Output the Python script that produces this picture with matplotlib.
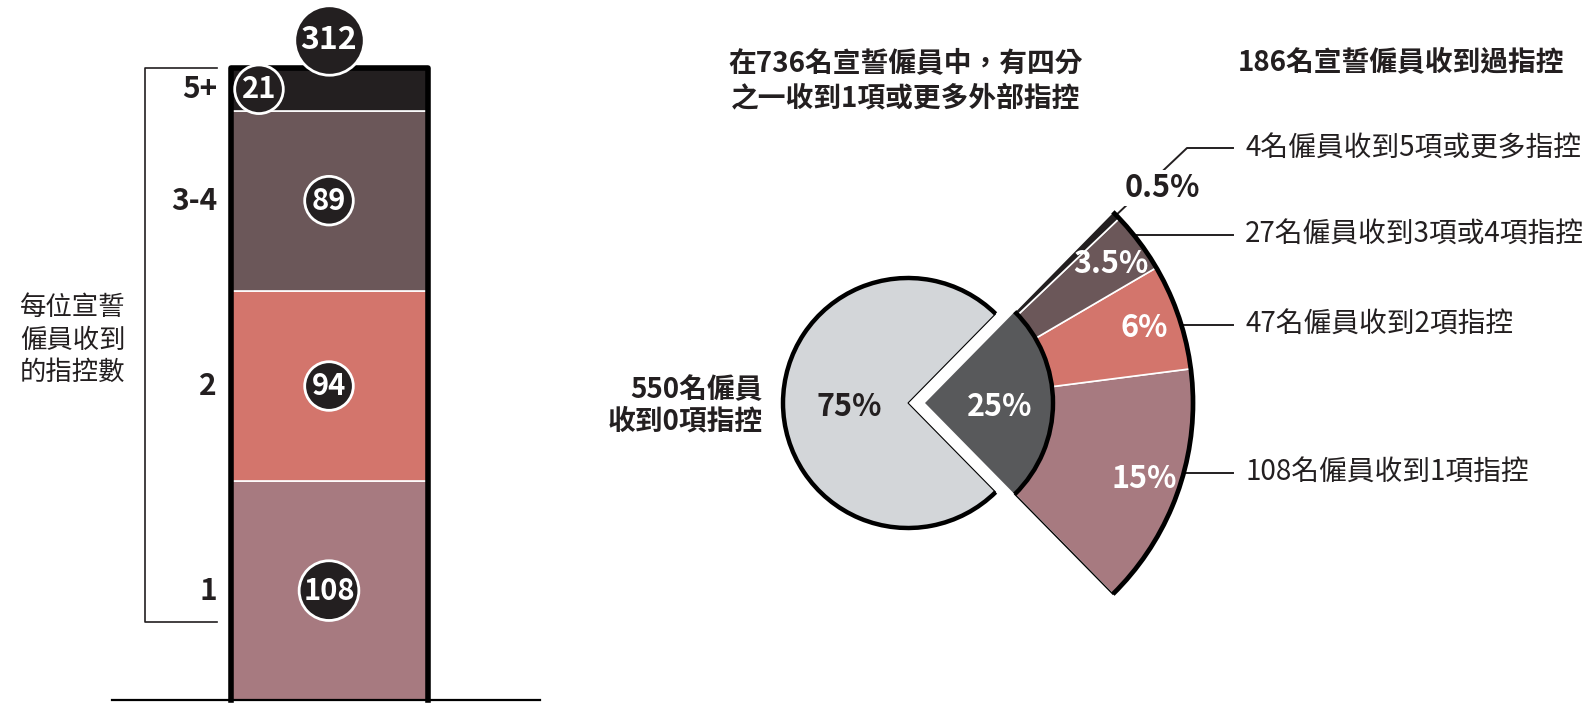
import numpy as np
import matplotlib.pyplot as plt
from matplotlib.patches import Wedge, Arc

plt.rcParams['font.family'] = ['Noto Sans CJK TC', 'DejaVu Sans']

# DATA

bar_labels = ['1', '2', '3-4', '5+']
bar_counts = [108, 94, 89, 21]
bar_colors = ['#A77A80', '#D3756C', '#6B5759', '#231F20']

pie_counts = [550, 186]
pie_pct = ['75%', '25%']
pie_colors = ['#D3D6D9', '#58595B']

fan_counts = [108, 47, 27, 4]
fan_pct = ['15%', '6%', '3.5%', '0.5%']
fan_colors = ['#A77A80', '#D3756C', '#6B5759', '#231F20']
fan_labels = ['108名僱員收到1項指控', '47名僱員收到2項指控',
              '27名僱員收到3項或4項指控', '4名僱員收到5項或更多指控']

title_left = '在736名宣誓僱員中，有四分\n之一收到1項或更多外部指控'
title_right = '186名宣誓僱員收到過指控'
zero_label = '550名僱員\n收到0項指控'
bar_ylabel = '每位宣誓\n僱員收到\n的指控數'

dark = '#231F20'
W, H = 1590, 703

fig = plt.figure(figsize=(15.9, 7.03), dpi=100)

# STACKED BAR (x in pixels, y in counts)
k = 632 / 312
axb = fig.add_axes([0, 0, 1, 1])
axb.set_xlim(0, W)
axb.set_ylim(-3 / k, 700 / k)
axb.axis('off')

counts = np.array(bar_counts)
bottoms = np.concatenate([[0], np.cumsum(counts)[:-1]])
mids = bottoms + counts / 2
total = counts.sum()
bx, bw = 329, 197

axb.bar([bx] * len(counts), counts, bottom=bottoms, width=bw, color=bar_colors,
        edgecolor='white', linewidth=1.2, zorder=2)
axb.plot([bx - bw / 2, bx - bw / 2, bx + bw / 2, bx + bw / 2], [0, total, total, 0],
         color='black', lw=4, solid_joinstyle='round', zorder=3)
axb.plot([112, 540], [0, 0], color='black', lw=1.6, zorder=4)

# bracket + category labels
axb.plot([217, 145, 145, 217], [total, total, 38.5, 38.5], color=dark, lw=1.2)
for lab, m in zip(bar_labels, mids):
    axb.text(217, m, lab, ha='right', va='center', fontsize=21.5, fontweight='bold', color=dark)
axb.text(20, (700 - 340) / k, bar_ylabel, ha='left', va='center', fontsize=19,
         color=dark, linespacing=1.25)

# value circles
cx_list = [bx if c != bar_counts[-1] else bx - 70 for c in bar_counts]
sizes = [(43 if c >= 100 else 35) ** 2 for c in bar_counts]
axb.scatter(cx_list, mids, s=sizes, c=dark, edgecolors='white', linewidths=2, zorder=5)
for x, m, c in zip(cx_list, mids, bar_counts):
    axb.text(x, m, str(c), ha='center', va='center', fontsize=21, fontweight='bold',
             color='white', zorder=6)
axb.scatter([bx], [total + 14], s=50 ** 2, c=dark, edgecolors='white', linewidths=2, zorder=5)
axb.text(bx, total + 14, str(total), ha='center', va='center', fontsize=23,
         fontweight='bold', color='white', zorder=6)

# PIE + FAN (pixel coords, y up)
axp = fig.add_axes([0, 0, 1, 1])
axp.set_xlim(0, W)
axp.set_ylim(0, H)
axp.axis('off')

cx0, cy = 908, H - 403
cx1 = 925
r_pie, r_in, r_out = 125, 128, 268
half = pie_counts[1] / sum(pie_counts) * 180

axp.add_patch(Wedge((cx0, cy), r_pie, half, 360 - half, facecolor=pie_colors[0],
                    edgecolor='black', lw=0.8, zorder=1))
axp.add_patch(Arc((cx0, cy), 2 * r_pie, 2 * r_pie, theta1=half, theta2=360 - half,
                  color='black', lw=3.2, zorder=3))

t = -half
fan_mid = []
for c, col in zip(fan_counts, fan_colors):
    span = c / sum(fan_counts) * 2 * half
    axp.add_patch(Wedge((cx1, cy), r_out, t, t + span, width=r_out - r_in,
                        facecolor=col, edgecolor='white', lw=1.2, zorder=1))
    fan_mid.append(t + span / 2)
    t += span
axp.add_patch(Arc((cx1, cy), 2 * r_out, 2 * r_out, theta1=-half, theta2=half,
                  color='black', lw=3.4, zorder=3))
a = np.radians(-half)
axp.plot([cx1 + r_in * np.cos(a), cx1 + r_out * np.cos(a)],
         [cy + r_in * np.sin(a), cy + r_out * np.sin(a)], color='black', lw=1, zorder=2)

axp.add_patch(Wedge((cx1, cy), r_in, -half, half, facecolor=pie_colors[1],
                    edgecolor='none', zorder=2))
axp.add_patch(Arc((cx1, cy), 2 * r_in, 2 * r_in, theta1=-half, theta2=half,
                  color='black', lw=3.2, zorder=3))

axp.text(cx0 - 59, cy - 4, pie_pct[0], ha='center', va='center', fontsize=22,
         fontweight='bold', color=dark)
axp.text(cx1 + 75, cy - 4, pie_pct[1], ha='center', va='center', fontsize=22,
         fontweight='bold', color='white')

for pct, m in zip(fan_pct[:-1], fan_mid[:-1]):
    a = np.radians(m)
    axp.text(cx1 + 232 * np.cos(a), cy + 232 * np.sin(a), pct, ha='center', va='center',
             fontsize=22, fontweight='bold', color='white', zorder=4)

# legend labels with leaders
label_y = [473, 325, 235, 148]
for lab, ly in zip(fan_labels[:-1], label_y[:-1]):
    dy = (H - ly) - cy
    x_start = cx1 + np.sqrt(r_out ** 2 - dy ** 2)
    axp.plot([x_start, 1233], [H - ly, H - ly], color=dark, lw=1.4, zorder=2)
    axp.text(1245, H - ly, lab, ha='left', va='center', fontsize=20, color=dark)

a = np.radians(fan_mid[-1])
tip = (cx1 + r_out * np.cos(a), cy + r_out * np.sin(a))
axp.plot([tip[0], 1187, 1233], [tip[1], H - 148, H - 148], color=dark, lw=1.4, zorder=2)
axp.text(1245, H - 148, fan_labels[-1], ha='left', va='center', fontsize=20, color=dark)
a2 = np.radians(fan_mid[-1] - 2.3)
axp.text(cx1 + 320 * np.cos(a2), cy + 320 * np.sin(a2), fan_pct[-1], ha='center',
         va='center', fontsize=22, fontweight='bold', color=dark, zorder=5,
         bbox=dict(facecolor='white', edgecolor='none', pad=1))

# titles
axp.text(906, H - 81, title_left, ha='center', va='center', fontsize=20,
         fontweight='bold', color=dark, linespacing=1.3)
axp.text(1238, H - 63, title_right, ha='left', va='center', fontsize=20,
         fontweight='bold', color=dark)
axp.text(763, H - 406, zero_label, ha='right', va='center', fontsize=20,
         fontweight='bold', color=dark, linespacing=1.15)

fig.savefig('out.png', dpi=100, facecolor='white')
